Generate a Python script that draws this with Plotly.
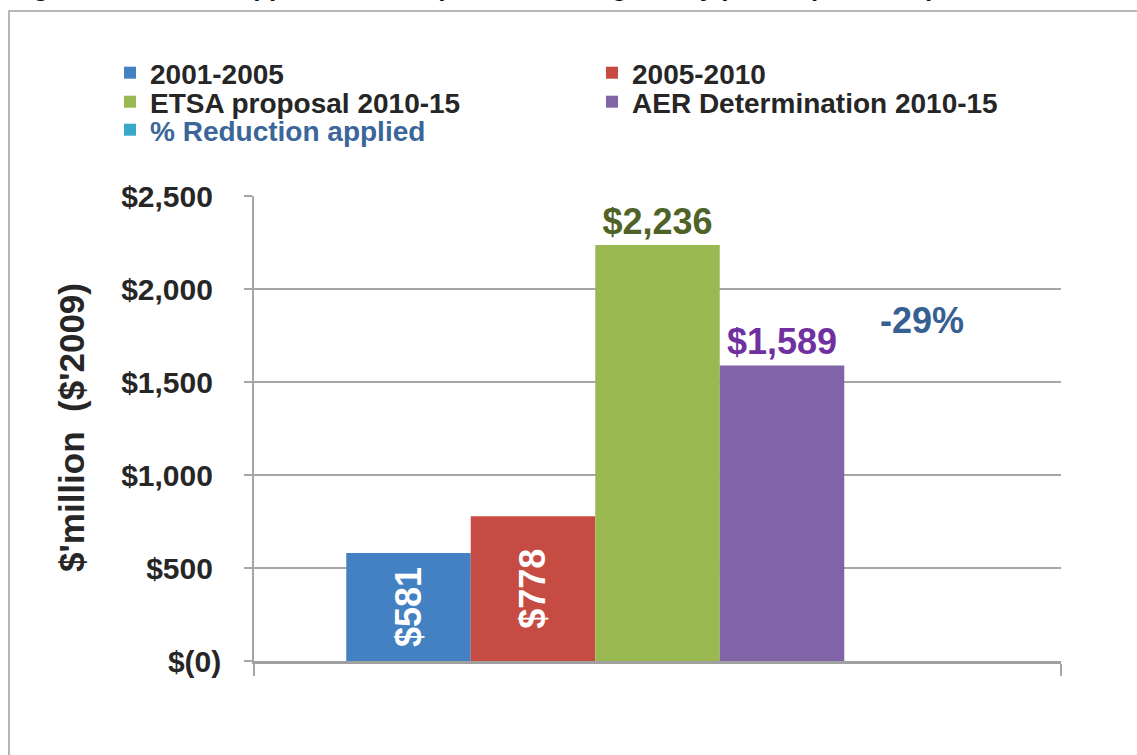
import plotly.graph_objects as go

# ---- data ----
category = [""]
series_names = ["2001-2005", "2005-2010", "ETSA proposal 2010-15",
                "AER Determination 2010-15", "% Reduction applied"]
values_2001_2005 = [581]
values_2005_2010 = [778]
values_etsa_2010_15 = [2236]
values_aer_2010_15 = [1589]
values_reduction = [0]
reduction_pct = [-29]
y_tickvals = [0, 500, 1000, 1500, 2000, 2500]
y_ticktext = ["$(0)", "$500\u00a0", "$1,000\u00a0", "$1,500\u00a0", "$2,000\u00a0", "$2,500\u00a0"]
y_title = "$'million\u00a0\u00a0($'2009)"
title_text = "Figure 3.10: ETSA approved net capex in each regulatory period ($m, 2009)"

FONT = "Liberation Sans, Arial, sans-serif"
colors = ["#4381c2", "#c64c43", "#9ab950", "#8164a8", "#38a9c8"]
series_values = [values_2001_2005, values_2005_2010, values_etsa_2010_15,
                 values_aer_2010_15, values_reduction]
legend_ids = ["legend", "legend2", "legend3", "legend4", "legend5"]

fig = go.Figure()
for i, (name, vals) in enumerate(zip(series_names, series_values)):
    kw = dict(x=category, y=vals, name=name, marker=dict(color=colors[i], line=dict(width=0)),
              legend=legend_ids[i], hoverinfo="skip", cliponaxis=False)
    if i in (0, 1):
        kw.update(texttemplate="$%{y:,}", textposition="inside", insidetextanchor="middle",
                  textangle=-90, textfont=dict(family=FONT, size=36, color="white", weight="bold"))
    elif i == 2:
        kw.update(texttemplate="$%{y:,}", textposition="outside", textangle=0,
                  textfont=dict(family=FONT, size=36, color="#4f6228", weight="bold"))
    elif i == 3:
        kw.update(texttemplate="$%{y:,}", textposition="outside", textangle=0,
                  textfont=dict(family=FONT, size=36, color="#7030a0", weight="bold"))
    fig.add_trace(go.Bar(**kw))

W, H = 1137, 755
L, R, T, B = 254, 76, 196, 94
pw, ph = W - L - R, H - T - B

def px_x(px):
    return (px - L) / pw

def px_y(py):
    return (H - B - py) / ph

legend_pos = [(150, 73), (632, 73), (150, 102), (632, 102), (150, 130)]
layout_legends = {}
for i, lid in enumerate(legend_ids):
    tx, ty = legend_pos[i]
    layout_legends[lid] = dict(
        xref="container", yref="container",
        x=(tx - 40) / W, y=1 - ty / H, xanchor="left", yanchor="middle",
        bgcolor="rgba(0,0,0,0)", borderwidth=0,
        font=dict(family=FONT, size=28, color="#3a6699" if i == 4 else "#262626", weight="bold"),
        itemclick=False, itemdoubleclick=False,
    )

fig.update_layout(
    width=W, height=H,
    margin=dict(l=L, r=R, t=T, b=B, pad=0, autoexpand=False),
    paper_bgcolor="white", plot_bgcolor="white",
    barmode="group", bargap=0.2286, bargroupgap=0,
    showlegend=True,
    xaxis=dict(showline=True, linecolor="#a0a0a0", linewidth=2.5,
               ticks="outside", ticklen=12, tickcolor="#a6a6a6", tickwidth=1.5,
               tickson="boundaries", showticklabels=False, showgrid=False, zeroline=False,
               fixedrange=True, automargin=False),
    yaxis=dict(range=[0, 2500], tickvals=y_tickvals, ticktext=y_ticktext,
               showline=True, linecolor="#a6a6a6", linewidth=1.5,
               ticks="outside", ticklen=8, tickcolor="#a6a6a6", tickwidth=1.5,
               showgrid=True, gridcolor="#a6a6a6", gridwidth=1.5, zeroline=False,
               tickfont=dict(family=FONT, size=30, color="#262626", weight="bold"),
               ticklabelstandoff=17, automargin=False,
               fixedrange=True),
    **layout_legends,
)

# y-axis title
fig.add_annotation(x=px_x(71), xref="paper", xanchor="center", y=px_y(428), yref="paper",
                   yanchor="middle", text=y_title, textangle=-90, showarrow=False,
                   font=dict(family=FONT, size=35, color="#262626", weight="bold"))

# % reduction label
fig.add_annotation(x=px_x(922), xref="paper", xanchor="center", y=1833, yref="y",
                   yanchor="middle", text=f"{reduction_pct[0]}%", showarrow=False,
                   font=dict(family=FONT, size=36, color="#366092", weight="bold"))

# clipped title at top (only its lowest strokes show, as in the source image)
fig.add_annotation(x=px_x(8), xref="paper", xanchor="left", y=px_y(4), yref="paper",
                   yanchor="bottom", text=title_text, showarrow=False,
                   font=dict(family=FONT, size=26, color="#111111", weight="bold"))

# outer chart border
fig.add_shape(type="rect", xref="paper", yref="paper",
              x0=px_x(9), x1=px_x(1145), y0=px_y(770), y1=px_y(11),
              line=dict(color="#a0a0a0", width=1.5), fillcolor="rgba(0,0,0,0)", layer="below")

fig.write_html("out.html", config={"displayModeBar": False},
               post_script="document.body.style.margin='0px';document.body.style.overflow='hidden';")
